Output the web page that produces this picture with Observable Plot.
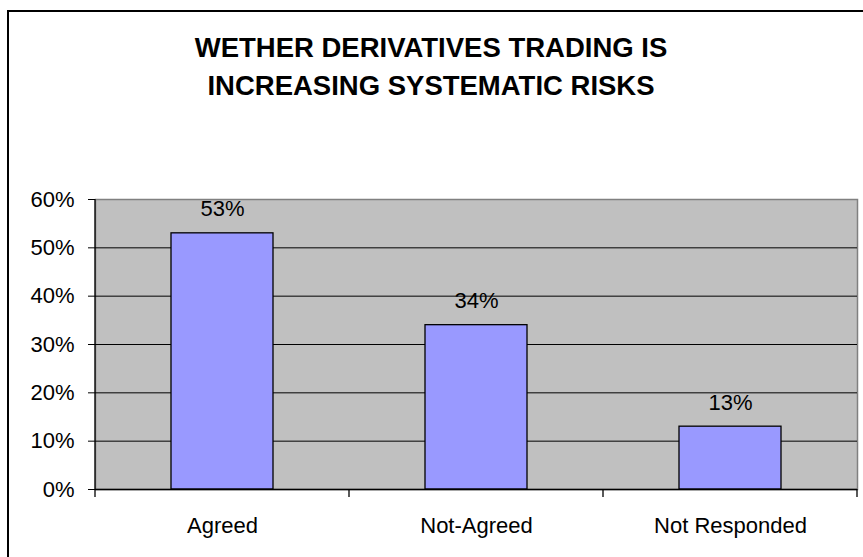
<!DOCTYPE html>
<html>
<head>
<meta charset="utf-8">
<script src="https://cdn.jsdelivr.net/npm/d3@7"></script>
<script src="https://cdn.jsdelivr.net/npm/@observablehq/plot@0.6"></script>
<style>
  html, body { margin: 0; padding: 0; background: #fff; }
  #wrap { position: relative; width: 863px; height: 557px; overflow: hidden; font-family: "Liberation Sans", Arial, sans-serif; }
  #border { position: absolute; left: 7px; top: 10px; width: 900px; height: 600px; border: 2px solid #000; box-sizing: border-box; }
  #title { position: absolute; top: 29px; left: 0; width: 862px; text-align: center; font-weight: bold; font-size: 27.5px; line-height: 38px; color: #000; }
  #chart { position: absolute; left: 0; top: 0; }
</style>
</head>
<body>
<div id="wrap">
  <div id="border"></div>
  <div id="title">WETHER DERIVATIVES TRADING IS<br>INCREASING SYSTEMATIC RISKS</div>
  <div id="chart"></div>
</div>
<script>
const categories = ["Agreed", "Not-Agreed", "Not Responded"];
const values = [0.53, 0.34, 0.13];
const yTicks = [0, 0.1, 0.2, 0.3, 0.4, 0.5, 0.6];

const data = categories.map((c, i) => ({category: c, value: values[i]}));
const fmt = d3.format(".0%");

const plot = Plot.plot({
  width: 863,
  height: 557,
  marginTop: 199,
  marginBottom: 68,
  marginLeft: 95,
  marginRight: 6,
  style: {fontFamily: "'Liberation Sans', Arial, sans-serif", fontSize: "22px", color: "#000", background: "transparent", overflow: "visible"},
  x: {domain: categories, paddingInner: 0.6, paddingOuter: 0.3, label: null},
  y: {domain: [0, 0.6], label: null},
  marks: [
    Plot.frame({fill: "#C0C0C0", stroke: "#808080", strokeWidth: 1.5}),
    Plot.ruleY(yTicks.slice(1, -1), {stroke: "#000", strokeWidth: 1}),
    Plot.barY(data, {x: "category", y: "value", fill: "#9999FF", stroke: "#000", strokeWidth: 1.3}),
    Plot.ruleY([0], {stroke: "#000", strokeWidth: 1.3}),
    Plot.text(data, {x: "category", y: "value", text: d => fmt(d.value), dy: -24, fontSize: 22, fill: "#000"}),
    Plot.axisY({ticks: yTicks, tickFormat: fmt, tickSize: 7, tickPadding: 14, stroke: "#000", fontSize: 22}),
    Plot.axisX({tickSize: 0, tickPadding: 28, fontSize: 22})
  ]
});
document.getElementById("chart").appendChild(plot);

// category boundary tick marks and left axis line, from the plot's own scales
const xs = plot.scale("x");
const ys = plot.scale("y");
const svg = d3.select(plot);
const gap = (xs.step - xs.bandwidth) / 2;
const bounds = categories.map(c => xs.apply(c) - gap);
bounds.push(xs.apply(categories[categories.length - 1]) + xs.bandwidth + gap);
const y0 = ys.apply(0), yTop = ys.apply(0.6);
const g = svg.append("g").attr("stroke", "#000").attr("stroke-width", 1.3);
g.selectAll("line.b").data(bounds).join("line")
  .attr("x1", d => d).attr("x2", d => d)
  .attr("y1", y0).attr("y2", y0 + 8);
g.append("line").attr("x1", bounds[0]).attr("x2", bounds[0]).attr("y1", yTop).attr("y2", y0);
</script>
</body>
</html>
